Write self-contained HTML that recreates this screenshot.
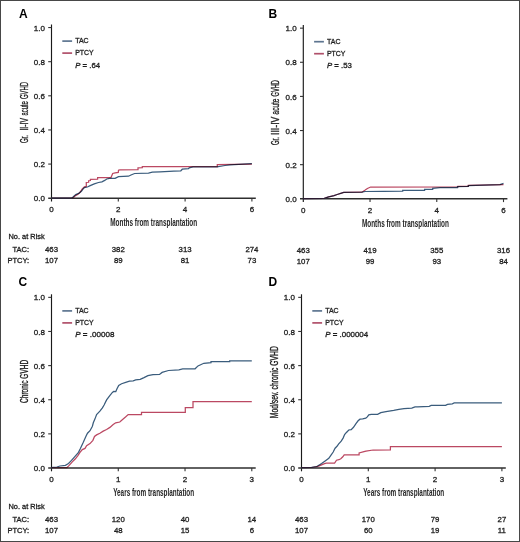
<!DOCTYPE html>
<html><head><meta charset="utf-8"><style>
html,body{margin:0;padding:0;background:#fff;}
body{width:520px;height:542px;overflow:hidden;}
svg{display:block;font-family:"Liberation Sans", sans-serif;will-change:transform;}
</style></head><body>
<svg width="520" height="542" viewBox="0 0 520 542">
<rect x="0" y="0" width="520" height="542" fill="#fff"/>
<rect x="0" y="0" width="520" height="1" fill="#474747"/>
<rect x="0" y="541" width="520" height="1" fill="#474747"/>
<rect x="0" y="0" width="1" height="542" fill="#474747"/>
<rect x="519" y="0" width="1" height="542" fill="#474747"/>
<text x="19.00" y="17.80" font-size="12" text-anchor="start" font-weight="bold" fill="#000">A</text>
<line x1="51.50" y1="24.50" x2="51.50" y2="201.50" stroke="#1a1a1a" stroke-width="1.15"/>
<line x1="48.20" y1="198.20" x2="255.80" y2="198.20" stroke="#2e2e2e" stroke-width="1.5"/>
<text x="44.90" y="201.30" font-size="8" text-anchor="end" fill="#262626" stroke="#1c1c1c" stroke-width="0.3">0.0</text>
<line x1="48.20" y1="164.07" x2="51.50" y2="164.07" stroke="#333" stroke-width="1.1"/>
<text x="44.90" y="167.17" font-size="8" text-anchor="end" fill="#262626" stroke="#1c1c1c" stroke-width="0.3">0.2</text>
<line x1="48.20" y1="129.94" x2="51.50" y2="129.94" stroke="#333" stroke-width="1.1"/>
<text x="44.90" y="133.04" font-size="8" text-anchor="end" fill="#262626" stroke="#1c1c1c" stroke-width="0.3">0.4</text>
<line x1="48.20" y1="95.81" x2="51.50" y2="95.81" stroke="#333" stroke-width="1.1"/>
<text x="44.90" y="98.91" font-size="8" text-anchor="end" fill="#262626" stroke="#1c1c1c" stroke-width="0.3">0.6</text>
<line x1="48.20" y1="61.68" x2="51.50" y2="61.68" stroke="#333" stroke-width="1.1"/>
<text x="44.90" y="64.78" font-size="8" text-anchor="end" fill="#262626" stroke="#1c1c1c" stroke-width="0.3">0.8</text>
<line x1="48.20" y1="27.55" x2="51.50" y2="27.55" stroke="#333" stroke-width="1.1"/>
<text x="44.90" y="30.65" font-size="8" text-anchor="end" fill="#262626" stroke="#1c1c1c" stroke-width="0.3">1.0</text>
<text x="51.50" y="212.00" font-size="8" text-anchor="middle" fill="#262626" stroke="#1c1c1c" stroke-width="0.3">0</text>
<line x1="118.30" y1="198.20" x2="118.30" y2="201.50" stroke="#333" stroke-width="1.1"/>
<text x="118.30" y="212.00" font-size="8" text-anchor="middle" fill="#262626" stroke="#1c1c1c" stroke-width="0.3">2</text>
<line x1="185.10" y1="198.20" x2="185.10" y2="201.50" stroke="#333" stroke-width="1.1"/>
<text x="185.10" y="212.00" font-size="8" text-anchor="middle" fill="#262626" stroke="#1c1c1c" stroke-width="0.3">4</text>
<line x1="251.90" y1="198.20" x2="251.90" y2="201.50" stroke="#333" stroke-width="1.1"/>
<text x="251.90" y="212.00" font-size="8" text-anchor="middle" fill="#262626" stroke="#1c1c1c" stroke-width="0.3">6</text>
<text x="153.70" y="226.20" font-size="10.4" text-anchor="middle" font-weight="bold" fill="#262626" textLength="87" lengthAdjust="spacingAndGlyphs">Months from transplantation</text>
<text transform="translate(27.60,143.10) rotate(-90)" x="0" y="0" font-size="10.4" fill="#1c1c1c" stroke="#1c1c1c" stroke-width="0.35" textLength="7.90" lengthAdjust="spacingAndGlyphs">Gr.</text>
<text transform="translate(27.60,130.60) rotate(-90)" x="0" y="0" font-size="10.4" fill="#1c1c1c" stroke="#1c1c1c" stroke-width="0.35" textLength="12.60" lengthAdjust="spacingAndGlyphs">II-IV</text>
<text transform="translate(27.60,115.50) rotate(-90)" x="0" y="0" font-size="10.4" fill="#1c1c1c" stroke="#1c1c1c" stroke-width="0.35" textLength="14.20" lengthAdjust="spacingAndGlyphs">acute</text>
<text transform="translate(27.60,99.00) rotate(-90)" x="0" y="0" font-size="10.4" fill="#1c1c1c" stroke="#1c1c1c" stroke-width="0.35" textLength="17.10" lengthAdjust="spacingAndGlyphs">GVHD</text>
<line x1="62.30" y1="41.10" x2="72.10" y2="41.10" stroke="#5d7590" stroke-width="1.7"/>
<text x="75.20" y="43.40" font-size="7.5" text-anchor="start" fill="#262626" textLength="13.5" lengthAdjust="spacingAndGlyphs" stroke="#1c1c1c" stroke-width="0.3">TAC</text>
<line x1="62.30" y1="53.10" x2="72.10" y2="53.10" stroke="#b0506a" stroke-width="1.7"/>
<text x="75.20" y="55.40" font-size="7.5" text-anchor="start" fill="#262626" textLength="18.5" lengthAdjust="spacingAndGlyphs" stroke="#1c1c1c" stroke-width="0.3">PTCY</text>
<text x="75.20" y="67.60" font-size="7.5" fill="#262626" stroke="#1c1c1c" stroke-width="0.3" textLength="24.9" lengthAdjust="spacingAndGlyphs"><tspan font-style="italic">P</tspan> = .64</text>
<polyline points="51.50,198.20 71.50,198.20 73.00,197.00 75.80,194.60 79.10,193.10 81.40,191.30 82.80,189.30 84.40,187.60 87.40,187.00 90.20,185.60 94.30,183.90 98.50,182.50 101.90,181.80 104.70,180.40 106.80,179.00 109.50,178.40 115.10,178.40 118.50,176.60 128.50,176.20 131.00,175.00 134.60,173.50 148.50,173.20 152.30,172.20 160.00,171.90 173.80,171.20 180.80,170.80 182.30,169.20 188.50,168.70 189.20,167.90 193.00,166.80 217.00,166.80 225.00,165.50 230.00,164.80 251.90,163.60" fill="none" stroke="#3a5c7c" stroke-width="1.25" stroke-linejoin="miter"/>
<polyline points="51.50,198.20 71.50,198.20 73.50,197.40 75.50,195.60 78.00,194.20 80.00,192.40 82.30,188.80 84.40,186.80 86.30,186.40 86.30,182.50 88.60,182.30 88.60,180.70 90.40,180.50 90.40,179.30 97.60,179.20 97.60,177.50 111.00,177.50 112.70,173.50 115.10,172.80 118.30,172.40 118.50,170.20 119.90,169.80 138.00,169.70 138.00,167.80 142.30,167.70 142.30,166.60 217.30,166.60 217.30,164.60 251.90,164.20" fill="none" stroke="#bb4862" stroke-width="1.25" stroke-linejoin="miter" style="mix-blend-mode:multiply"/>
<text x="8.50" y="238.70" font-size="7.5" text-anchor="start" fill="#262626" textLength="36.2" lengthAdjust="spacingAndGlyphs" stroke="#1c1c1c" stroke-width="0.3">No. at Risk</text>
<text x="29.10" y="252.30" font-size="7.5" text-anchor="end" fill="#262626" stroke="#1c1c1c" stroke-width="0.3">TAC:</text>
<text x="29.10" y="263.10" font-size="7.5" text-anchor="end" fill="#262626" stroke="#1c1c1c" stroke-width="0.3">PTCY:</text>
<text x="51.50" y="252.30" font-size="7.8" text-anchor="middle" fill="#262626" stroke="#1c1c1c" stroke-width="0.3">463</text>
<text x="51.50" y="263.10" font-size="7.8" text-anchor="middle" fill="#262626" stroke="#1c1c1c" stroke-width="0.3">107</text>
<text x="118.30" y="252.30" font-size="7.8" text-anchor="middle" fill="#262626" stroke="#1c1c1c" stroke-width="0.3">382</text>
<text x="118.30" y="263.10" font-size="7.8" text-anchor="middle" fill="#262626" stroke="#1c1c1c" stroke-width="0.3">89</text>
<text x="185.10" y="252.30" font-size="7.8" text-anchor="middle" fill="#262626" stroke="#1c1c1c" stroke-width="0.3">313</text>
<text x="185.10" y="263.10" font-size="7.8" text-anchor="middle" fill="#262626" stroke="#1c1c1c" stroke-width="0.3">81</text>
<text x="251.90" y="252.30" font-size="7.8" text-anchor="middle" fill="#262626" stroke="#1c1c1c" stroke-width="0.3">274</text>
<text x="251.90" y="263.10" font-size="7.8" text-anchor="middle" fill="#262626" stroke="#1c1c1c" stroke-width="0.3">73</text>
<text x="268.50" y="17.80" font-size="12" text-anchor="start" font-weight="bold" fill="#000">B</text>
<line x1="303.30" y1="25.10" x2="303.30" y2="202.10" stroke="#1a1a1a" stroke-width="1.15"/>
<line x1="300.00" y1="198.80" x2="507.40" y2="198.80" stroke="#2e2e2e" stroke-width="1.5"/>
<text x="296.70" y="201.90" font-size="8" text-anchor="end" fill="#262626" stroke="#1c1c1c" stroke-width="0.3">0.0</text>
<line x1="300.00" y1="164.67" x2="303.30" y2="164.67" stroke="#333" stroke-width="1.1"/>
<text x="296.70" y="167.77" font-size="8" text-anchor="end" fill="#262626" stroke="#1c1c1c" stroke-width="0.3">0.2</text>
<line x1="300.00" y1="130.54" x2="303.30" y2="130.54" stroke="#333" stroke-width="1.1"/>
<text x="296.70" y="133.64" font-size="8" text-anchor="end" fill="#262626" stroke="#1c1c1c" stroke-width="0.3">0.4</text>
<line x1="300.00" y1="96.41" x2="303.30" y2="96.41" stroke="#333" stroke-width="1.1"/>
<text x="296.70" y="99.51" font-size="8" text-anchor="end" fill="#262626" stroke="#1c1c1c" stroke-width="0.3">0.6</text>
<line x1="300.00" y1="62.28" x2="303.30" y2="62.28" stroke="#333" stroke-width="1.1"/>
<text x="296.70" y="65.38" font-size="8" text-anchor="end" fill="#262626" stroke="#1c1c1c" stroke-width="0.3">0.8</text>
<line x1="300.00" y1="28.15" x2="303.30" y2="28.15" stroke="#333" stroke-width="1.1"/>
<text x="296.70" y="31.25" font-size="8" text-anchor="end" fill="#262626" stroke="#1c1c1c" stroke-width="0.3">1.0</text>
<text x="303.30" y="212.60" font-size="8" text-anchor="middle" fill="#262626" stroke="#1c1c1c" stroke-width="0.3">0</text>
<line x1="370.03" y1="198.80" x2="370.03" y2="202.10" stroke="#333" stroke-width="1.1"/>
<text x="370.03" y="212.60" font-size="8" text-anchor="middle" fill="#262626" stroke="#1c1c1c" stroke-width="0.3">2</text>
<line x1="436.77" y1="198.80" x2="436.77" y2="202.10" stroke="#333" stroke-width="1.1"/>
<text x="436.77" y="212.60" font-size="8" text-anchor="middle" fill="#262626" stroke="#1c1c1c" stroke-width="0.3">4</text>
<line x1="503.50" y1="198.80" x2="503.50" y2="202.10" stroke="#333" stroke-width="1.1"/>
<text x="503.50" y="212.60" font-size="8" text-anchor="middle" fill="#262626" stroke="#1c1c1c" stroke-width="0.3">6</text>
<text x="405.40" y="226.80" font-size="10.4" text-anchor="middle" font-weight="bold" fill="#262626" textLength="87" lengthAdjust="spacingAndGlyphs">Months from transplantation</text>
<text transform="translate(279.40,144.90) rotate(-90)" x="0" y="0" font-size="10.4" fill="#1c1c1c" stroke="#1c1c1c" stroke-width="0.35" textLength="7.70" lengthAdjust="spacingAndGlyphs">Gr.</text>
<text transform="translate(279.40,135.00) rotate(-90)" x="0" y="0" font-size="10.4" fill="#1c1c1c" stroke="#1c1c1c" stroke-width="0.35" textLength="18.40" lengthAdjust="spacingAndGlyphs">III-IV</text>
<text transform="translate(279.40,114.40) rotate(-90)" x="0" y="0" font-size="10.4" fill="#1c1c1c" stroke="#1c1c1c" stroke-width="0.35" textLength="15.70" lengthAdjust="spacingAndGlyphs">acute</text>
<text transform="translate(279.40,96.50) rotate(-90)" x="0" y="0" font-size="10.4" fill="#1c1c1c" stroke="#1c1c1c" stroke-width="0.35" textLength="16.40" lengthAdjust="spacingAndGlyphs">GVHD</text>
<line x1="314.10" y1="41.70" x2="323.90" y2="41.70" stroke="#5d7590" stroke-width="1.7"/>
<text x="327.00" y="44.00" font-size="7.5" text-anchor="start" fill="#262626" textLength="13.5" lengthAdjust="spacingAndGlyphs" stroke="#1c1c1c" stroke-width="0.3">TAC</text>
<line x1="314.10" y1="53.70" x2="323.90" y2="53.70" stroke="#b0506a" stroke-width="1.7"/>
<text x="327.00" y="56.00" font-size="7.5" text-anchor="start" fill="#262626" textLength="18.5" lengthAdjust="spacingAndGlyphs" stroke="#1c1c1c" stroke-width="0.3">PTCY</text>
<text x="327.00" y="68.20" font-size="7.5" fill="#262626" stroke="#1c1c1c" stroke-width="0.3" textLength="24.9" lengthAdjust="spacingAndGlyphs"><tspan font-style="italic">P</tspan> = .53</text>
<polyline points="303.10,198.60 324.30,198.40 328.60,196.90 331.00,196.30 334.00,195.60 337.20,194.50 341.50,193.10 343.70,192.40 362.00,192.20 365.00,191.50 383.50,191.30 402.70,191.10 402.70,190.30 424.60,190.30 424.60,189.40 432.70,189.40 432.70,188.30 440.00,187.60 457.50,187.60 457.50,186.60 468.30,186.50 468.30,185.60 500.00,184.60 503.50,183.40" fill="none" stroke="#3a5c7c" stroke-width="1.25" stroke-linejoin="miter"/>
<polyline points="303.10,198.60 324.30,198.40 328.60,196.90 331.00,196.30 334.00,195.60 337.20,194.50 341.50,193.10 343.70,192.40 362.00,192.20 365.20,190.10 367.40,188.50 370.60,187.00 458.00,186.90 458.00,186.30 468.30,186.30 468.30,185.40 503.50,184.60" fill="none" stroke="#bb4862" stroke-width="1.25" stroke-linejoin="miter" style="mix-blend-mode:multiply"/>
<text x="303.30" y="252.90" font-size="7.8" text-anchor="middle" fill="#262626" stroke="#1c1c1c" stroke-width="0.3">463</text>
<text x="303.30" y="263.70" font-size="7.8" text-anchor="middle" fill="#262626" stroke="#1c1c1c" stroke-width="0.3">107</text>
<text x="370.03" y="252.90" font-size="7.8" text-anchor="middle" fill="#262626" stroke="#1c1c1c" stroke-width="0.3">419</text>
<text x="370.03" y="263.70" font-size="7.8" text-anchor="middle" fill="#262626" stroke="#1c1c1c" stroke-width="0.3">99</text>
<text x="436.77" y="252.90" font-size="7.8" text-anchor="middle" fill="#262626" stroke="#1c1c1c" stroke-width="0.3">355</text>
<text x="436.77" y="263.70" font-size="7.8" text-anchor="middle" fill="#262626" stroke="#1c1c1c" stroke-width="0.3">93</text>
<text x="503.50" y="252.90" font-size="7.8" text-anchor="middle" fill="#262626" stroke="#1c1c1c" stroke-width="0.3">316</text>
<text x="503.50" y="263.70" font-size="7.8" text-anchor="middle" fill="#262626" stroke="#1c1c1c" stroke-width="0.3">84</text>
<text x="18.50" y="285.60" font-size="12" text-anchor="start" font-weight="bold" fill="#000">C</text>
<line x1="51.50" y1="294.30" x2="51.50" y2="471.30" stroke="#1a1a1a" stroke-width="1.15"/>
<line x1="48.20" y1="468.00" x2="255.70" y2="468.00" stroke="#2e2e2e" stroke-width="1.5"/>
<text x="44.90" y="471.10" font-size="8" text-anchor="end" fill="#262626" stroke="#1c1c1c" stroke-width="0.3">0.0</text>
<line x1="48.20" y1="433.87" x2="51.50" y2="433.87" stroke="#333" stroke-width="1.1"/>
<text x="44.90" y="436.97" font-size="8" text-anchor="end" fill="#262626" stroke="#1c1c1c" stroke-width="0.3">0.2</text>
<line x1="48.20" y1="399.74" x2="51.50" y2="399.74" stroke="#333" stroke-width="1.1"/>
<text x="44.90" y="402.84" font-size="8" text-anchor="end" fill="#262626" stroke="#1c1c1c" stroke-width="0.3">0.4</text>
<line x1="48.20" y1="365.61" x2="51.50" y2="365.61" stroke="#333" stroke-width="1.1"/>
<text x="44.90" y="368.71" font-size="8" text-anchor="end" fill="#262626" stroke="#1c1c1c" stroke-width="0.3">0.6</text>
<line x1="48.20" y1="331.48" x2="51.50" y2="331.48" stroke="#333" stroke-width="1.1"/>
<text x="44.90" y="334.58" font-size="8" text-anchor="end" fill="#262626" stroke="#1c1c1c" stroke-width="0.3">0.8</text>
<line x1="48.20" y1="297.35" x2="51.50" y2="297.35" stroke="#333" stroke-width="1.1"/>
<text x="44.90" y="300.45" font-size="8" text-anchor="end" fill="#262626" stroke="#1c1c1c" stroke-width="0.3">1.0</text>
<text x="51.50" y="481.80" font-size="8" text-anchor="middle" fill="#262626" stroke="#1c1c1c" stroke-width="0.3">0</text>
<line x1="118.27" y1="468.00" x2="118.27" y2="471.30" stroke="#333" stroke-width="1.1"/>
<text x="118.27" y="481.80" font-size="8" text-anchor="middle" fill="#262626" stroke="#1c1c1c" stroke-width="0.3">1</text>
<line x1="185.03" y1="468.00" x2="185.03" y2="471.30" stroke="#333" stroke-width="1.1"/>
<text x="185.03" y="481.80" font-size="8" text-anchor="middle" fill="#262626" stroke="#1c1c1c" stroke-width="0.3">2</text>
<line x1="251.80" y1="468.00" x2="251.80" y2="471.30" stroke="#333" stroke-width="1.1"/>
<text x="251.80" y="481.80" font-size="8" text-anchor="middle" fill="#262626" stroke="#1c1c1c" stroke-width="0.3">3</text>
<text x="153.65" y="496.00" font-size="10.4" text-anchor="middle" font-weight="bold" fill="#262626" textLength="81" lengthAdjust="spacingAndGlyphs">Years from transplantation</text>
<text transform="translate(27.60,381.38) rotate(-90)" x="0" y="0" font-size="10.4" text-anchor="middle" fill="#1c1c1c" stroke="#1c1c1c" stroke-width="0.35" textLength="43" lengthAdjust="spacingAndGlyphs">Chronic GVHD</text>
<line x1="62.30" y1="310.90" x2="72.10" y2="310.90" stroke="#5d7590" stroke-width="1.7"/>
<text x="75.20" y="313.20" font-size="7.5" text-anchor="start" fill="#262626" textLength="13.5" lengthAdjust="spacingAndGlyphs" stroke="#1c1c1c" stroke-width="0.3">TAC</text>
<line x1="62.30" y1="322.90" x2="72.10" y2="322.90" stroke="#b0506a" stroke-width="1.7"/>
<text x="75.20" y="325.20" font-size="7.5" text-anchor="start" fill="#262626" textLength="18.5" lengthAdjust="spacingAndGlyphs" stroke="#1c1c1c" stroke-width="0.3">PTCY</text>
<text x="75.20" y="337.40" font-size="7.5" fill="#262626" stroke="#1c1c1c" stroke-width="0.3" textLength="39.3" lengthAdjust="spacingAndGlyphs"><tspan font-style="italic">P</tspan> = .00008</text>
<polyline points="51.45,467.60 53.00,467.40 56.90,467.00 60.00,466.00 65.40,465.30 68.50,463.50 71.50,460.40 74.60,456.90 78.50,452.30 80.40,448.50 83.30,442.30 86.20,435.70 87.50,433.20 90.00,430.70 92.40,426.20 93.30,422.80 94.90,419.10 96.60,414.50 99.90,411.20 102.40,407.90 104.10,405.00 106.60,399.90 110.00,395.30 112.40,392.40 113.70,391.40 115.80,391.60 117.00,388.70 118.70,385.40 121.60,383.70 125.70,382.40 129.50,381.20 133.20,380.80 135.70,379.80 140.20,379.30 144.00,377.60 147.90,375.60 153.00,374.60 159.50,374.40 162.10,372.40 168.50,370.50 178.90,369.80 182.70,368.90 195.10,368.80 198.00,365.90 203.80,363.30 211.00,362.70 211.00,361.50 229.70,361.50 229.70,360.80 251.80,360.80" fill="none" stroke="#3a5c7c" stroke-width="1.25" stroke-linejoin="miter"/>
<polyline points="51.45,467.60 66.90,467.60 69.20,465.40 72.30,461.90 75.40,458.80 77.70,455.80 80.00,452.30 82.30,449.60 85.00,448.40 86.60,445.70 90.00,443.60 92.90,440.30 94.50,436.50 96.60,434.90 99.90,433.20 103.20,431.10 106.60,429.50 109.90,427.40 113.20,424.50 115.70,422.80 119.80,422.00 122.30,419.70 125.50,417.00 128.20,414.60 141.50,414.60 141.50,412.40 185.30,412.40 185.30,407.50 193.00,407.50 193.00,401.60 251.80,401.60" fill="none" stroke="#bb4862" stroke-width="1.25" stroke-linejoin="miter" style="mix-blend-mode:multiply"/>
<text x="8.50" y="508.50" font-size="7.5" text-anchor="start" fill="#262626" textLength="36.2" lengthAdjust="spacingAndGlyphs" stroke="#1c1c1c" stroke-width="0.3">No. at Risk</text>
<text x="29.10" y="522.10" font-size="7.5" text-anchor="end" fill="#262626" stroke="#1c1c1c" stroke-width="0.3">TAC:</text>
<text x="29.10" y="532.90" font-size="7.5" text-anchor="end" fill="#262626" stroke="#1c1c1c" stroke-width="0.3">PTCY:</text>
<text x="51.50" y="522.10" font-size="7.8" text-anchor="middle" fill="#262626" stroke="#1c1c1c" stroke-width="0.3">463</text>
<text x="51.50" y="532.90" font-size="7.8" text-anchor="middle" fill="#262626" stroke="#1c1c1c" stroke-width="0.3">107</text>
<text x="118.27" y="522.10" font-size="7.8" text-anchor="middle" fill="#262626" stroke="#1c1c1c" stroke-width="0.3">120</text>
<text x="118.27" y="532.90" font-size="7.8" text-anchor="middle" fill="#262626" stroke="#1c1c1c" stroke-width="0.3">48</text>
<text x="185.03" y="522.10" font-size="7.8" text-anchor="middle" fill="#262626" stroke="#1c1c1c" stroke-width="0.3">40</text>
<text x="185.03" y="532.90" font-size="7.8" text-anchor="middle" fill="#262626" stroke="#1c1c1c" stroke-width="0.3">15</text>
<text x="251.80" y="522.10" font-size="7.8" text-anchor="middle" fill="#262626" stroke="#1c1c1c" stroke-width="0.3">14</text>
<text x="251.80" y="532.90" font-size="7.8" text-anchor="middle" fill="#262626" stroke="#1c1c1c" stroke-width="0.3">6</text>
<text x="268.50" y="285.60" font-size="12" text-anchor="start" font-weight="bold" fill="#000">D</text>
<line x1="301.50" y1="294.30" x2="301.50" y2="471.30" stroke="#1a1a1a" stroke-width="1.15"/>
<line x1="298.20" y1="468.00" x2="505.80" y2="468.00" stroke="#2e2e2e" stroke-width="1.5"/>
<text x="294.90" y="471.10" font-size="8" text-anchor="end" fill="#262626" stroke="#1c1c1c" stroke-width="0.3">0.0</text>
<line x1="298.20" y1="433.87" x2="301.50" y2="433.87" stroke="#333" stroke-width="1.1"/>
<text x="294.90" y="436.97" font-size="8" text-anchor="end" fill="#262626" stroke="#1c1c1c" stroke-width="0.3">0.2</text>
<line x1="298.20" y1="399.74" x2="301.50" y2="399.74" stroke="#333" stroke-width="1.1"/>
<text x="294.90" y="402.84" font-size="8" text-anchor="end" fill="#262626" stroke="#1c1c1c" stroke-width="0.3">0.4</text>
<line x1="298.20" y1="365.61" x2="301.50" y2="365.61" stroke="#333" stroke-width="1.1"/>
<text x="294.90" y="368.71" font-size="8" text-anchor="end" fill="#262626" stroke="#1c1c1c" stroke-width="0.3">0.6</text>
<line x1="298.20" y1="331.48" x2="301.50" y2="331.48" stroke="#333" stroke-width="1.1"/>
<text x="294.90" y="334.58" font-size="8" text-anchor="end" fill="#262626" stroke="#1c1c1c" stroke-width="0.3">0.8</text>
<line x1="298.20" y1="297.35" x2="301.50" y2="297.35" stroke="#333" stroke-width="1.1"/>
<text x="294.90" y="300.45" font-size="8" text-anchor="end" fill="#262626" stroke="#1c1c1c" stroke-width="0.3">1.0</text>
<text x="301.50" y="481.80" font-size="8" text-anchor="middle" fill="#262626" stroke="#1c1c1c" stroke-width="0.3">0</text>
<line x1="368.30" y1="468.00" x2="368.30" y2="471.30" stroke="#333" stroke-width="1.1"/>
<text x="368.30" y="481.80" font-size="8" text-anchor="middle" fill="#262626" stroke="#1c1c1c" stroke-width="0.3">1</text>
<line x1="435.10" y1="468.00" x2="435.10" y2="471.30" stroke="#333" stroke-width="1.1"/>
<text x="435.10" y="481.80" font-size="8" text-anchor="middle" fill="#262626" stroke="#1c1c1c" stroke-width="0.3">2</text>
<line x1="501.90" y1="468.00" x2="501.90" y2="471.30" stroke="#333" stroke-width="1.1"/>
<text x="501.90" y="481.80" font-size="8" text-anchor="middle" fill="#262626" stroke="#1c1c1c" stroke-width="0.3">3</text>
<text x="403.70" y="496.00" font-size="10.4" text-anchor="middle" font-weight="bold" fill="#262626" textLength="81" lengthAdjust="spacingAndGlyphs">Years from transplantation</text>
<text transform="translate(277.60,382.18) rotate(-90)" x="0" y="0" font-size="10.4" text-anchor="middle" fill="#1c1c1c" stroke="#1c1c1c" stroke-width="0.35" textLength="72" lengthAdjust="spacingAndGlyphs">Mod/sev. chronic GVHD</text>
<line x1="312.30" y1="310.90" x2="322.10" y2="310.90" stroke="#5d7590" stroke-width="1.7"/>
<text x="325.20" y="313.20" font-size="7.5" text-anchor="start" fill="#262626" textLength="13.5" lengthAdjust="spacingAndGlyphs" stroke="#1c1c1c" stroke-width="0.3">TAC</text>
<line x1="312.30" y1="322.90" x2="322.10" y2="322.90" stroke="#b0506a" stroke-width="1.7"/>
<text x="325.20" y="325.20" font-size="7.5" text-anchor="start" fill="#262626" textLength="18.5" lengthAdjust="spacingAndGlyphs" stroke="#1c1c1c" stroke-width="0.3">PTCY</text>
<text x="325.20" y="337.40" font-size="7.5" fill="#262626" stroke="#1c1c1c" stroke-width="0.3" textLength="43" lengthAdjust="spacingAndGlyphs"><tspan font-style="italic">P</tspan> = .000004</text>
<polyline points="301.40,467.60 311.50,467.40 316.80,466.50 321.60,463.60 325.50,460.70 328.80,458.30 331.20,454.90 333.20,452.00 335.10,448.20 337.00,446.30 338.50,444.20 341.20,441.20 343.10,438.10 344.60,434.60 346.20,432.70 348.80,430.00 351.20,429.60 353.50,427.30 355.80,423.80 358.10,420.80 360.00,419.20 362.70,418.80 365.80,418.10 367.30,416.90 368.80,414.80 371.20,414.40 377.60,414.30 380.80,412.60 386.00,411.70 393.70,410.40 398.90,409.40 404.00,408.70 411.80,408.10 415.00,406.80 417.70,406.90 429.20,406.30 431.20,405.40 445.60,405.40 447.50,404.40 452.30,403.80 454.20,402.90 501.90,402.90" fill="none" stroke="#3a5c7c" stroke-width="1.25" stroke-linejoin="miter"/>
<polyline points="301.40,467.60 312.00,467.50 317.80,466.40 321.60,464.80 324.50,463.60 326.40,463.10 334.60,463.10 336.50,460.20 338.90,459.70 340.80,458.80 342.80,456.80 344.20,454.90 359.10,454.90 359.10,453.00 364.00,451.70 366.00,451.20 373.10,450.00 390.40,449.90 390.40,446.70 501.90,446.70" fill="none" stroke="#bb4862" stroke-width="1.25" stroke-linejoin="miter" style="mix-blend-mode:multiply"/>
<text x="301.50" y="522.10" font-size="7.8" text-anchor="middle" fill="#262626" stroke="#1c1c1c" stroke-width="0.3">463</text>
<text x="301.50" y="532.90" font-size="7.8" text-anchor="middle" fill="#262626" stroke="#1c1c1c" stroke-width="0.3">107</text>
<text x="368.30" y="522.10" font-size="7.8" text-anchor="middle" fill="#262626" stroke="#1c1c1c" stroke-width="0.3">170</text>
<text x="368.30" y="532.90" font-size="7.8" text-anchor="middle" fill="#262626" stroke="#1c1c1c" stroke-width="0.3">60</text>
<text x="435.10" y="522.10" font-size="7.8" text-anchor="middle" fill="#262626" stroke="#1c1c1c" stroke-width="0.3">79</text>
<text x="435.10" y="532.90" font-size="7.8" text-anchor="middle" fill="#262626" stroke="#1c1c1c" stroke-width="0.3">19</text>
<text x="501.90" y="522.10" font-size="7.8" text-anchor="middle" fill="#262626" stroke="#1c1c1c" stroke-width="0.3">27</text>
<text x="501.90" y="532.90" font-size="7.8" text-anchor="middle" fill="#262626" stroke="#1c1c1c" stroke-width="0.3">11</text>
</svg>
</body></html>
